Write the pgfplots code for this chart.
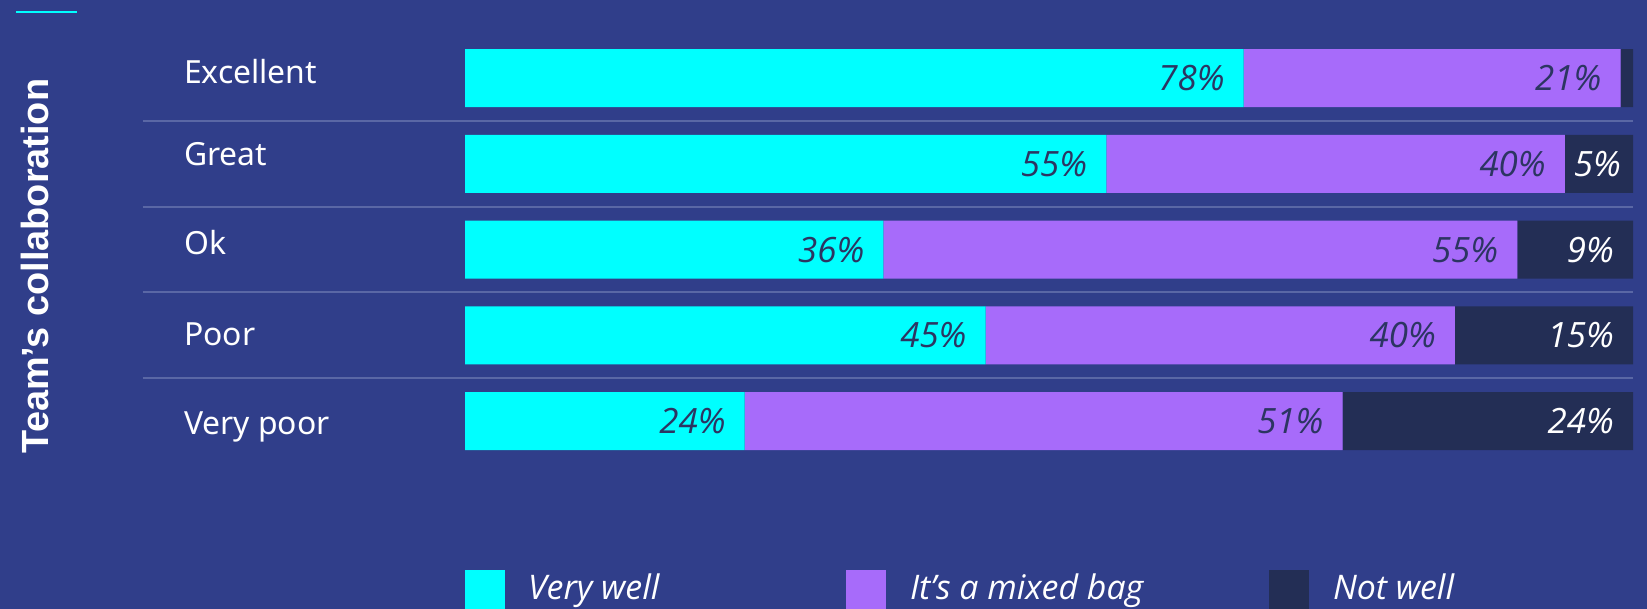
\documentclass[border=0pt]{standalone}
\usepackage{pgfplots}
\pgfplotsset{compat=1.18}
\usepackage{fontspec}
\setmainfont{Noto Sans}
\newfontfamily\lightf{Open Sans}
\newfontfamily\titlef{Liberation Sans}
\definecolor{bg}{RGB}{48,62,138}
\definecolor{cyanc}{RGB}{0,255,255}
\definecolor{purc}{RGB}{167,107,250}
\definecolor{darkc}{RGB}{35,46,85}
\definecolor{labc}{RGB}{44,53,98}
\definecolor{sepc}{RGB}{90,103,165}
\begin{document}
\begin{tikzpicture}[x=1bp,y=1bp]
\useasboundingbox (0,0) rectangle (1647,609);
\fill[bg] (0,0) rectangle (1647,609);
\draw[cyanc, line width=2bp] (16,597) -- (77,597);
\node[rotate=90, text=white, inner sep=0] at (35,343) {\titlef\bfseries\fontsize{38}{40}\selectfont Team’s collaboration};
\begin{axis}[
  at={(465bp,145bp)}, anchor=south west,
  scale only axis, width=1168bp, height=428.75bp,
  xbar stacked, bar width=58bp,
  xmin=0, xmax=100, ymin=-0.5, ymax=4.5, y dir=reverse,
  axis line style={draw=none},
  xtick=\empty, ytick={0,1,2,3,4},
  yticklabels={Excellent,\raisebox{3bp}{Great},Ok,\raisebox{-5bp}{Poor},\raisebox{-8bp}{Very poor}},
  major tick length=0pt,
  yticklabel style={anchor=base west, xshift=-281bp, yshift=-5bp, inner sep=0pt, text=white, font=\fontsize{32}{38}\selectfont},
  clip=false,
  point meta=explicit symbolic,
  visualization depends on={rawx \as \myrawx},
  nodes near coords,
  every node near coord/.append style={anchor=east, xshift={\myrawx*5.841bp-19bp}, inner sep=0pt, font=\lightf\itshape\fontsize{35}{40}\selectfont},
  legend columns=3,
  legend image code/.code={\fill[#1] (0bp,-20bp) rectangle (40bp,30bp);},
  legend style={at={(0,-0.2472)}, anchor=north west, draw=none, fill=none, inner sep=0pt, outer sep=0pt, column sep=0pt, row sep=0pt, text=white, font=\lightf\itshape\fontsize{34}{40}\selectfont, nodes={inner sep=0pt, anchor=base west}},
]
\addplot[fill=cyanc, draw=none, every node near coord/.append style={text=labc}] coordinates {
  (66.66,0) [78\%] (54.90,1) [55\%] (35.82,2) [36\%] (44.57,3) [45\%] (23.94,4) [24\%]};
\addlegendentry{\makebox[341bp][l]{\hspace{23bp}Very well}}
\addplot[fill=purc, draw=none, every node near coord/.append style={text=labc}] coordinates {
  (32.27,0) [21\%] (39.26,1) [40\%] (54.27,2) [55\%] (40.18,3) [40\%] (51.19,4) [51\%]};
\addlegendentry{\makebox[383bp][l]{\hspace{24bp}It’s a mixed bag}}
\addplot[fill=darkc, draw=none, every node near coord/.append style={text=white}] coordinates {
  (1.07,0) [{}] (5.84,1) [5\%\kern-7bp] (9.91,2) [9\%] (15.25,3) [15\%] (24.87,4) [24\%]};
\addlegendentry{\makebox[200bp][l]{\hspace{24bp}Not well}}
\draw[sepc, line width=2bp] (axis cs:-27.59,0.5) -- (axis cs:100,0.5);
\draw[sepc, line width=2bp] (axis cs:-27.59,1.5) -- (axis cs:100,1.5);
\draw[sepc, line width=2bp] (axis cs:-27.59,2.5) -- (axis cs:100,2.5);
\draw[sepc, line width=2bp] (axis cs:-27.59,3.5) -- (axis cs:100,3.5);
\end{axis}
\end{tikzpicture}
\end{document}
